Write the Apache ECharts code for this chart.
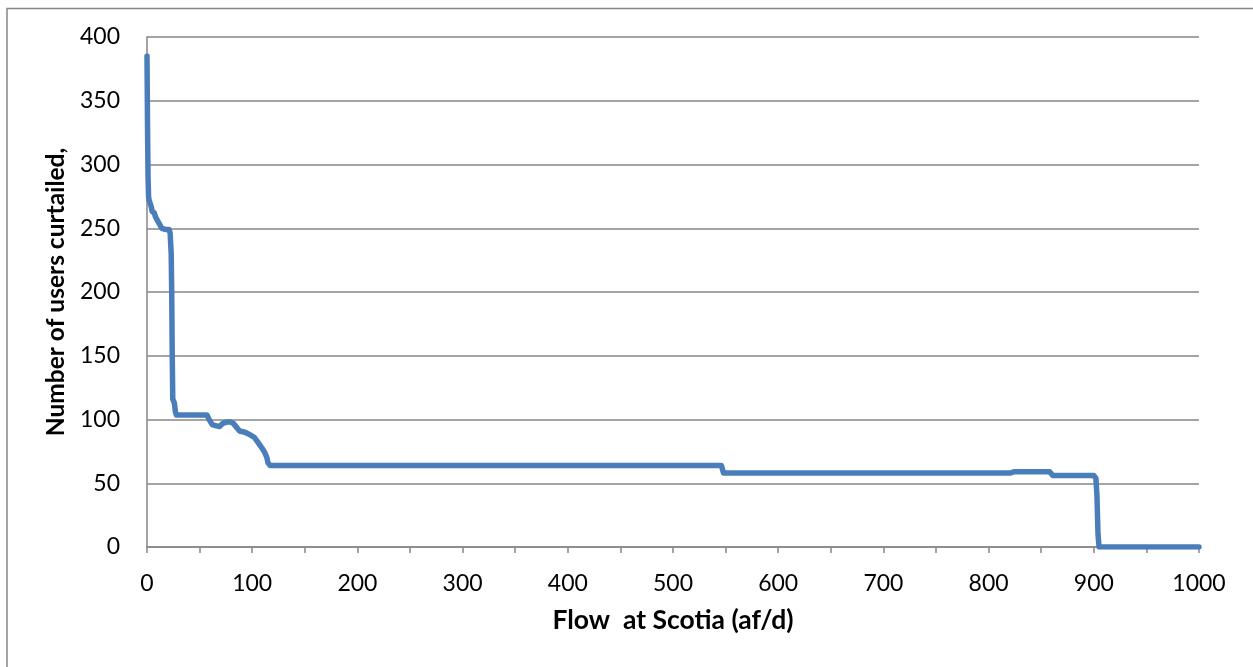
<!DOCTYPE html>
<html>
<head>
<meta charset="utf-8">
<script src="https://cdn.jsdelivr.net/npm/echarts@6/dist/echarts.min.js"></script>
<style>
  html, body { margin: 0; padding: 0; background: #fff; }
  #chart { width: 1253px; height: 667px; }
</style>
</head>
<body>
<div id="chart"></div>
<script>
// Flow at Scotia (af/d) and the number of users curtailed at that flow
const flow = [
  0, 0.5, 1, 1.5, 2, 4, 5, 7, 8, 10, 12, 14, 18, 21, 22, 23, 23.5, 24, 24.5, 26, 27, 28,
  40, 50, 57, 59, 62, 66, 69, 72, 76, 79, 82, 84, 88, 93, 98, 102, 105.5, 109, 112, 114, 115, 117,
  200, 300, 400, 500, 546, 548, 700, 821, 824, 858, 861, 900, 902, 903, 904, 905, 1000
];
const usersCurtailed = [
  385, 330, 290, 275, 272, 267, 263, 262, 259, 256, 253, 250, 249, 249, 246, 230, 200, 150, 116, 113, 106, 103.5,
  103.5, 103.5, 103.5, 100, 96, 95, 94.5, 97, 98, 98, 97, 95, 91, 90, 88, 86, 82, 78, 74, 70, 66, 64,
  64, 64, 64, 64, 64, 58, 58, 58, 59, 59, 56, 56, 54, 40, 10, 0, 0
];
const xTicks = { min: 0, max: 1000, interval: 100 };
const yTicks = { min: 0, max: 400, interval: 50 };

const points = flow.map((f, i) => [f, usersCurtailed[i]]);

const axisGrey = '#868686';
const font = 'Lato, "Open Sans", "Liberation Sans", sans-serif';
const plain = v => String(v);

const chart = echarts.init(document.getElementById('chart'), null, { renderer: 'canvas' });
chart.setOption({
  animation: false,
  backgroundColor: '#ffffff',
  graphic: [{
    type: 'rect',
    shape: { x: 7, y: 8.5, width: 1400, height: 900 },
    style: { fill: 'none', stroke: axisGrey, lineWidth: 1.5 },
    silent: true
  }],
  grid: { left: 147, top: 37, right: 54, bottom: 120, containLabel: false },
  xAxis: {
    type: 'value',
    min: xTicks.min, max: xTicks.max, interval: xTicks.interval,
    name: 'Flow  at Scotia (af/d)',
    nameLocation: 'middle',
    nameGap: 60,
    nameTextStyle: { fontFamily: font, fontWeight: 'bold', fontSize: 26.5, color: '#000' },
    axisLine: { show: true, lineStyle: { color: axisGrey, width: 1.5 } },
    axisTick: { show: true, length: 6, inside: false, lineStyle: { color: axisGrey, width: 1.5 } },
    minorTick: { show: true, splitNumber: 2, length: 6, lineStyle: { color: axisGrey, width: 1.5 } },
    axisLabel: { fontFamily: font, fontSize: 23, color: '#000', margin: 25, formatter: plain },
    splitLine: { show: false }
  },
  yAxis: {
    type: 'value',
    min: yTicks.min, max: yTicks.max, interval: yTicks.interval,
    name: 'Number of users curtailed,',
    nameLocation: 'middle',
    nameGap: 76,
    nameTextStyle: { fontFamily: font, fontWeight: 'bold', fontSize: 24.5, color: '#000' },
    axisLine: { show: true, lineStyle: { color: axisGrey, width: 1.5 } },
    axisTick: { show: false },
    axisLabel: { fontFamily: font, fontSize: 23, color: '#000', margin: 27, formatter: plain },
    splitLine: { show: true, lineStyle: { color: axisGrey, width: 1.5 } }
  },
  series: [{
    type: 'line',
    data: points,
    showSymbol: false,
    symbol: 'none',
    lineStyle: { color: '#4a7ebb', width: 5.5, join: 'round', cap: 'round' },
    smooth: false
  }]
});
</script>
</body>
</html>
